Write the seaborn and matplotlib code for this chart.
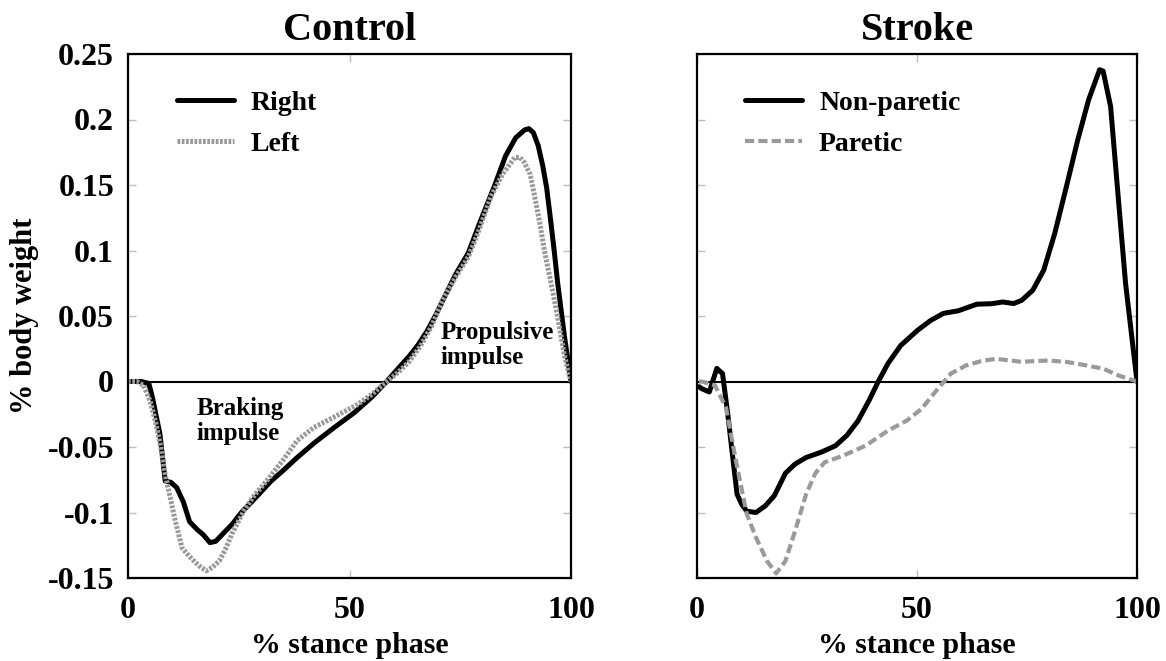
import matplotlib
matplotlib.use("Agg")
import matplotlib.pyplot as plt
import seaborn as sns
import numpy as np

# Anterior-posterior ground reaction force over stance (fraction of body weight)
control_right_x = [0, 3, 4.7, 5.5, 7.2, 8.4, 9.7, 11, 12.5, 13.9, 15.6, 17, 18.5, 19.8, 21.5, 23.5,
                   25.6, 29, 32.3, 35, 38.2, 42, 46.6, 51, 55, 58.4, 61, 63.4, 65.5, 67.6, 69.5,
                   71.8, 74, 76.8, 79.5, 82.7, 85.2, 87.5, 89.5, 90.5, 91.5, 92.6, 93.6, 94.5,
                   95.3, 96.2, 97, 98.5, 100]
control_right_y = [0, 0, -0.0015, -0.012, -0.04, -0.076, -0.077, -0.081, -0.092, -0.107, -0.113,
                   -0.117, -0.123, -0.122, -0.116, -0.109, -0.1, -0.088, -0.076, -0.068, -0.058,
                   -0.047, -0.035, -0.024, -0.012, 0.0, 0.01, 0.019, 0.028, 0.039, 0.051, 0.067,
                   0.082, 0.098, 0.122, 0.149, 0.172, 0.186, 0.192, 0.193, 0.19, 0.18, 0.165,
                   0.148, 0.126, 0.1, 0.075, 0.035, 0]

control_left_x = [0, 2, 3.5, 5, 6.3, 7.4, 8.4, 9.5, 10.5, 12.2, 13.7, 15.2, 16.5, 17.7, 19, 20.6,
                  22, 23.5, 26.1, 28.5, 31.5, 35, 38.2, 42, 46.6, 51.6, 55, 58.4, 61, 63.4, 66,
                  68.5, 71, 74, 76.8, 79.5, 81.9, 84.5, 87.3, 88.5, 89.5, 90.8, 92, 93, 94, 95.5,
                  97, 98.5, 100]
control_left_y = [0, 0, -0.003, -0.015, -0.032, -0.05, -0.071, -0.088, -0.104, -0.127, -0.133,
                  -0.138, -0.142, -0.1445, -0.142, -0.137, -0.128, -0.116, -0.099, -0.087,
                  -0.075, -0.06, -0.045, -0.035, -0.027, -0.018, -0.01, 0.0, 0.007, 0.015,
                  0.027, 0.042, 0.062, 0.08, 0.095, 0.118, 0.141, 0.158, 0.171, 0.171, 0.167,
                  0.158, 0.138, 0.12, 0.1, 0.075, 0.049, 0.02, 0]

stroke_nonparetic_x = [0.5, 1.1, 2.8, 4.5, 5.8, 7, 8.3, 9.1, 10.2, 11.3, 13.4, 15.5, 17.6, 20.1,
                       22.3, 24.8, 28.2, 31.5, 34.1, 36.6, 39.1, 41.2, 43.4, 46.3, 50.1, 53.1, 56,
                       59.4, 63.6, 67, 69.5, 72, 73.8, 76.3, 78.8, 81.3, 83.9, 86.5, 89, 91.5,
                       92.3, 94, 95.8, 97.4, 100]
stroke_nonparetic_y = [-0.004, -0.0055, -0.008, 0.01, 0.006, -0.025, -0.063, -0.086, -0.094,
                       -0.099, -0.1, -0.095, -0.087, -0.07, -0.063, -0.058, -0.054, -0.049,
                       -0.041, -0.03, -0.0145, 0.0, 0.0137, 0.0275, 0.039, 0.0466, 0.052, 0.054,
                       0.059, 0.0594, 0.0607, 0.0595, 0.062, 0.0696, 0.085, 0.113, 0.148, 0.184,
                       0.215, 0.238, 0.237, 0.21, 0.138, 0.075, 0]

stroke_paretic_x = [0.5, 1.1, 4.1, 6.6, 8.7, 11.3, 13.4, 15.9, 18, 20.1, 22.3, 24.8, 26.9, 29,
                    33.2, 38.3, 43.4, 47.6, 51, 54.4, 57.7, 61.1, 64.5, 67.9, 71.3, 73.8, 76.3,
                    79.7, 83.9, 88.2, 92.4, 95.8, 100]
stroke_paretic_y = [0, 0, -0.003, -0.02, -0.058, -0.101, -0.119, -0.137, -0.1465, -0.137, -0.114,
                    -0.086, -0.07, -0.0617, -0.0566, -0.049, -0.0375, -0.03, -0.021, -0.0069,
                    0.006, 0.0122, 0.0155, 0.0173, 0.016, 0.015, 0.0155, 0.016, 0.015, 0.0125,
                    0.0097, 0.0046, 0]

y_ticks = [-0.15, -0.1, -0.05, 0, 0.05, 0.1, 0.15, 0.2, 0.25]
y_tick_labels = ["-0.15", "-0.1", "-0.05", "0", "0.05", "0.1", "0.15", "0.2", "0.25"]
x_ticks = [0, 50, 100]
x_tick_labels = ["0", "50", "100"]

sns.set_style("white")
plt.rcParams["font.family"] = ["Liberation Serif", "DejaVu Serif"]
plt.rcParams["font.weight"] = "bold"
plt.rcParams["text.color"] = "black"
plt.rcParams["axes.labelcolor"] = "black"
plt.rcParams["xtick.color"] = "black"
plt.rcParams["ytick.color"] = "black"

fig = plt.figure(figsize=(11.66, 6.61), dpi=100)
W, H = 1166, 661
ax1 = fig.add_axes([128 / W, 1 - 578 / H, (571 - 128) / W, (578 - 54) / H])
ax2 = fig.add_axes([697 / W, 1 - 578 / H, (1137 - 697) / W, (578 - 54) / H])

BLACK_LW = 3.6
GRAY = "#9a9a9a"
TICK_FS = 23

sns.lineplot(x=control_right_x, y=control_right_y, ax=ax1, color="black", linewidth=BLACK_LW,
             estimator=None, sort=False, label="Right")
sns.lineplot(x=control_left_x, y=control_left_y, ax=ax1, color=GRAY, linewidth=3.6,
             linestyle=(0, (0.55, 0.3)), estimator=None, sort=False, label="Left")

sns.lineplot(x=stroke_nonparetic_x, y=stroke_nonparetic_y, ax=ax2, color="black",
             linewidth=BLACK_LW, estimator=None, sort=False, label="Non-paretic")
sns.lineplot(x=stroke_paretic_x, y=stroke_paretic_y, ax=ax2, color=GRAY, linewidth=3.0,
             linestyle=(0, (2.2, 1.0)), estimator=None, sort=False, label="Paretic")

for ax in (ax1, ax2):
    ax.axhline(0, color="black", linewidth=1.5, zorder=1)
    ax.set_xlim(0, 100)
    ax.set_ylim(-0.15, 0.25)
    ax.set_xticks(x_ticks)
    ax.set_xticklabels(x_tick_labels, fontsize=TICK_FS, fontweight="bold")
    ax.set_yticks(y_ticks)
    ax.tick_params(axis="both", direction="in", length=6, width=1, color="#bdbdbd",
                   labelcolor="black", left=True, right=True, top=True, bottom=True)
    ax.tick_params(axis="x", pad=13)
    ax.tick_params(axis="y", pad=10)
    for sp in ax.spines.values():
        sp.set_color("black")
        sp.set_linewidth(1.6)
    ax.set_xlabel("% stance phase", fontsize=21.5, fontweight="bold", labelpad=5,
                  color="black")
    leg = ax.legend(loc="upper left", bbox_to_anchor=(0.11, 0.93), frameon=False,
                    fontsize=20, handlelength=2.05, handletextpad=0.6, labelspacing=0.55,
                    borderpad=0, borderaxespad=0)
    for t in leg.get_texts():
        t.set_fontweight("bold")
        t.set_color("black")

ax1.set_yticklabels(y_tick_labels, fontsize=TICK_FS, fontweight="bold")
ax2.set_yticklabels([])
ax1.set_ylabel("% body weight", fontsize=22, fontweight="bold", labelpad=6, color="black")
ax2.set_ylabel("")

ax1.set_title("Control", fontsize=29, fontweight="bold", pad=10, color="black")
ax2.set_title("Stroke", fontsize=29, fontweight="bold", pad=10, color="black")

ax1.text(15.4, -0.012, "Braking\nimpulse", fontsize=18, fontweight="bold", color="black",
         ha="left", va="top", linespacing=1.1)
ax1.text(70.5, 0.046, "Propulsive\nimpulse", fontsize=18, fontweight="bold", color="black",
         ha="left", va="top", linespacing=1.1)

fig.savefig("out.png", dpi=100)
